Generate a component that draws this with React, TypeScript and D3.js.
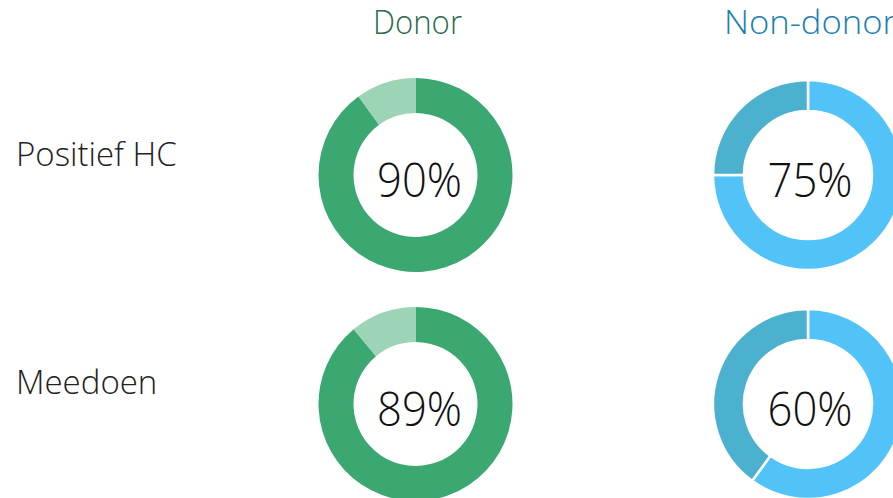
import React from "react";
import * as d3 from "d3";

const groups = ["Donor", "Non-donor"];
const rowLabels = ["Positief HC", "Meedoen"];
const donorValues = [90, 89];
const nonDonorValues = [75, 60];

const W = 893;
const H = 498;
const FONT = "'Segoe UI Light', 'Open Sans', 'Noto Sans', sans-serif";

const colX = d3.scaleOrdinal<string, number>().domain(groups).range([415.5, 808]);
const rowY = d3.scaleOrdinal<string, number>().domain(rowLabels).range([175, 404]);

const groupStyle: Record<string, { main: string; rest: string; title: string; outer: number; inner: number; gap: number; dx: number }> = {
  Donor: { main: "#3aa870", rest: "#9dd4b6", title: "#2b6b4b", outer: 97, inner: 62, gap: 0, dx: 4 },
  "Non-donor": { main: "#52c3f9", rest: "#4cb1cf", title: "#1a80b1", outer: 95, inner: 64, gap: 2.5, dx: 2 },
};

const pie = d3.pie<number>().sort(null).value((d) => d).startAngle(0).endAngle(2 * Math.PI);

function Donut({ group, row, value }: { group: string; row: string; value: number }) {
  const st = groupStyle[group];
  const cx = colX(group);
  const cy = rowY(row);
  const arc = d3.arc<d3.PieArcDatum<number>>().innerRadius(st.inner).outerRadius(st.outer);
  const arcs = pie([value, 100 - value]);
  return (
    <g transform={`translate(${cx},${cy})`}>
      {arcs.map((a, i) => (
        <path
          key={i}
          d={arc(a) || ""}
          fill={i === 0 ? st.main : st.rest}
          stroke={st.gap ? "#fff" : "none"}
          strokeWidth={st.gap}
        />
      ))}
      <text
        x={st.dx}
        y={22}
        textAnchor="middle"
        fontFamily={FONT}
        fontWeight={300}
        fontSize={48}
        textLength={85}
        lengthAdjust="spacingAndGlyphs"
        fill="#111"
      >
        {`${value}%`}
      </text>
    </g>
  );
}

export default function App() {
  const valuesByGroup: Record<string, number[]> = {
    Donor: donorValues,
    "Non-donor": nonDonorValues,
  };
  return (
    <svg
      width={W}
      height={H}
      style={{ position: "absolute", left: 0, top: 0, background: "#fff" }}
    >
      {groups.map((g) => (
        <text
          key={g}
          x={g === "Donor" ? 373 : 724}
          y={34}
          textLength={g === "Donor" ? 89 : 172}
          lengthAdjust="spacingAndGlyphs"
          fontFamily={FONT}
          fontWeight={300}
          fontSize={33}
          fill={groupStyle[g].title}
        >
          {g}
        </text>
      ))}
      {rowLabels.map((r, i) => (
        <text
          key={r}
          x={16}
          y={i === 0 ? 166 : 394}
          fontFamily={FONT}
          fontWeight={300}
          fontSize={33}
          fill="#222"
        >
          {r}
        </text>
      ))}
      {groups.map((g) =>
        rowLabels.map((r, i) => (
          <Donut key={g + r} group={g} row={r} value={valuesByGroup[g][i]} />
        ))
      )}
    </svg>
  );
}
